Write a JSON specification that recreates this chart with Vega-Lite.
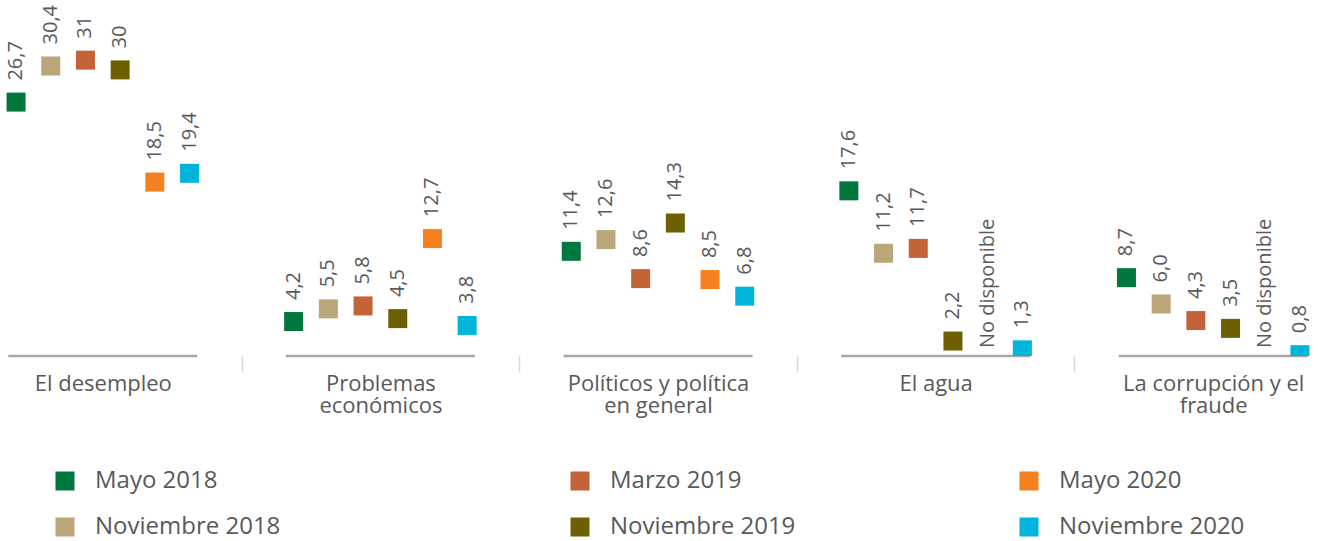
{
  "$schema": "https://vega.github.io/schema/vega-lite/v6.json",
  "autosize": {"type": "none"},
  "padding": {"left": -36, "top": 0, "right": -32, "bottom": 185},
  "width": 1388,
  "height": 356,
  "background": "white",
  "config": {
    "font": "Open Sans",
    "view": {"stroke": null},
    "axis": {"grid": false},
    "legend": {
      "orient": "none",
      "title": null,
      "padding": 0,
      "symbolType": "square",
      "symbolSize": 361,
      "symbolStrokeWidth": 0,
      "labelFont": "Open Sans",
      "labelFontSize": 24,
      "labelColor": "#595959",
      "labelOffset": 18,
      "rowPadding": 22,
      "labelLimit": 400
    }
  },
  "data": {
    "values": [
      {"category": "El desempleo", "series": "Mayo 2018", "value": 26.7, "label": "26,7"},
      {"category": "El desempleo", "series": "Noviembre 2018", "value": 30.4, "label": "30,4"},
      {"category": "El desempleo", "series": "Marzo 2019", "value": 31, "label": "31"},
      {"category": "El desempleo", "series": "Noviembre 2019", "value": 30, "label": "30"},
      {"category": "El desempleo", "series": "Mayo 2020", "value": 18.5, "label": "18,5"},
      {"category": "El desempleo", "series": "Noviembre 2020", "value": 19.4, "label": "19,4"},
      {"category": "Problemas económicos", "series": "Mayo 2018", "value": 4.2, "label": "4,2"},
      {"category": "Problemas económicos", "series": "Noviembre 2018", "value": 5.5, "label": "5,5"},
      {"category": "Problemas económicos", "series": "Marzo 2019", "value": 5.8, "label": "5,8"},
      {"category": "Problemas económicos", "series": "Noviembre 2019", "value": 4.5, "label": "4,5"},
      {"category": "Problemas económicos", "series": "Mayo 2020", "value": 12.7, "label": "12,7"},
      {"category": "Problemas económicos", "series": "Noviembre 2020", "value": 3.8, "label": "3,8"},
      {"category": "Políticos y política en general", "series": "Mayo 2018", "value": 11.4, "label": "11,4"},
      {"category": "Políticos y política en general", "series": "Noviembre 2018", "value": 12.6, "label": "12,6"},
      {"category": "Políticos y política en general", "series": "Marzo 2019", "value": 8.6, "label": "8,6"},
      {"category": "Políticos y política en general", "series": "Noviembre 2019", "value": 14.3, "label": "14,3"},
      {"category": "Políticos y política en general", "series": "Mayo 2020", "value": 8.5, "label": "8,5"},
      {"category": "Políticos y política en general", "series": "Noviembre 2020", "value": 6.8, "label": "6,8"},
      {"category": "El agua", "series": "Mayo 2018", "value": 17.6, "label": "17,6"},
      {"category": "El agua", "series": "Noviembre 2018", "value": 11.2, "label": "11,2"},
      {"category": "El agua", "series": "Marzo 2019", "value": 11.7, "label": "11,7"},
      {"category": "El agua", "series": "Noviembre 2019", "value": 2.2, "label": "2,2"},
      {"category": "El agua", "series": "Mayo 2020", "value": null, "label": "No disponible"},
      {"category": "El agua", "series": "Noviembre 2020", "value": 1.3, "label": "1,3"},
      {"category": "La corrupción y el fraude", "series": "Mayo 2018", "value": 8.7, "label": "8,7"},
      {"category": "La corrupción y el fraude", "series": "Noviembre 2018", "value": 6.0, "label": "6,0"},
      {"category": "La corrupción y el fraude", "series": "Marzo 2019", "value": 4.3, "label": "4,3"},
      {"category": "La corrupción y el fraude", "series": "Noviembre 2019", "value": 3.5, "label": "3,5"},
      {"category": "La corrupción y el fraude", "series": "Mayo 2020", "value": null, "label": "No disponible"},
      {"category": "La corrupción y el fraude", "series": "Noviembre 2020", "value": 0.8, "label": "0,8"}
    ]
  },
  "encoding": {
    "x": {
      "field": "category",
      "type": "nominal",
      "scale": {
        "type": "band",
        "domain": ["El desempleo", "Problemas económicos", "Políticos y política en general", "El agua", "La corrupción y el fraude"],
        "paddingInner": 0,
        "paddingOuter": 0
      },
      "axis": {
        "title": null,
        "domain": false,
        "ticks": true,
        "tickBand": "extent",
        "tickSize": 16,
        "tickColor": "#d9d9d9",
        "tickWidth": 1.5,
        "labelAngle": 0,
        "labelFontSize": 22,
        "labelColor": "#595959",
        "labelPadding": 1,
        "labelLineHeight": 22,
        "labelLimit": 300,
        "labelExpr": "datum.label == 'Problemas económicos' ? ['Problemas', 'económicos'] : datum.label == 'Políticos y política en general' ? ['Políticos y política', 'en general'] : datum.label == 'La corrupción y el fraude' ? ['La corrupción y el', 'fraude'] : datum.label"
      }
    }
  },
  "layer": [
    {
      "transform": [{"filter": "datum.series == 'Mayo 2018'"}],
      "mark": {"type": "tick", "size": 189, "thickness": 2.5, "color": "#a6a6a6", "opacity": 1},
      "encoding": {
        "y": {"datum": 0, "type": "quantitative", "scale": {"domain": [0, 36.5], "nice": false, "zero": false}, "axis": null}
      }
    },
    {
      "transform": [
        {"filter": "datum.value != null"},
        {"filter": "indexof(['Mayo 2020', 'Noviembre 2020'], datum.series) < 0"}
      ],
      "mark": {"type": "point", "shape": "square", "filled": true, "size": 361, "opacity": 1, "yOffset": 6.5, "clip": true},
      "encoding": {
        "xOffset": {"field": "series", "type": "nominal", "scale": {"type": "band", "domain": ["Mayo 2018", "Noviembre 2018", "Marzo 2019", "Noviembre 2019", "Mayo 2020", "Noviembre 2020"], "paddingInner": 0, "paddingOuter": 1.082}},
        "y": {"field": "value", "type": "quantitative", "scale": {"domain": [0, 36.5], "nice": false, "zero": false}, "axis": null},
        "color": {
          "field": "series",
          "type": "nominal",
          "scale": {
            "domain": ["Mayo 2018", "Marzo 2019", "Noviembre 2018", "Noviembre 2019"],
            "range": ["#00773D", "#C46337", "#BBA67A", "#6E6000"]
          },
          "legend": {"legendX": 89, "legendY": 469, "direction": "horizontal", "columns": 2, "columnPadding": 287}
        }
      }
    },
    {
      "transform": [
        {"filter": "datum.value != null"},
        {"filter": "indexof(['Mayo 2020', 'Noviembre 2020'], datum.series) >= 0"}
      ],
      "mark": {"type": "point", "shape": "square", "filled": true, "size": 361, "opacity": 1, "yOffset": 6.5, "clip": true},
      "encoding": {
        "xOffset": {"field": "series", "type": "nominal", "scale": {"type": "band", "domain": ["Mayo 2018", "Noviembre 2018", "Marzo 2019", "Noviembre 2019", "Mayo 2020", "Noviembre 2020"], "paddingInner": 0, "paddingOuter": 1.082}},
        "y": {"field": "value", "type": "quantitative", "scale": {"domain": [0, 36.5], "nice": false, "zero": false}, "axis": null},
        "color": {
          "field": "series",
          "type": "nominal",
          "scale": {
            "domain": ["Mayo 2020", "Noviembre 2020"],
            "range": ["#F48120", "#00B4DA"]
          },
          "legend": {"legendX": 1053, "legendY": 469, "direction": "vertical", "columns": 1}
        }
      }
    },
    {
      "transform": [{"filter": "datum.value != null"}],
      "mark": {"type": "text", "angle": 270, "align": "left", "baseline": "middle", "fontSize": 20, "color": "#595959", "yOffset": -15},
      "encoding": {
        "xOffset": {"field": "series", "type": "nominal", "scale": {"type": "band", "domain": ["Mayo 2018", "Noviembre 2018", "Marzo 2019", "Noviembre 2019", "Mayo 2020", "Noviembre 2020"], "paddingInner": 0, "paddingOuter": 1.082}},
        "y": {"field": "value", "type": "quantitative", "scale": {"domain": [0, 36.5], "nice": false, "zero": false}, "axis": null},
        "text": {"field": "label", "type": "nominal"}
      }
    },
    {
      "transform": [{"filter": "datum.value == null"}],
      "mark": {"type": "text", "angle": 270, "align": "left", "baseline": "middle", "fontSize": 20, "color": "#595959", "yOffset": -8},
      "encoding": {
        "xOffset": {"field": "series", "type": "nominal", "scale": {"type": "band", "domain": ["Mayo 2018", "Noviembre 2018", "Marzo 2019", "Noviembre 2019", "Mayo 2020", "Noviembre 2020"], "paddingInner": 0, "paddingOuter": 1.082}},
        "y": {"datum": 0, "type": "quantitative", "scale": {"domain": [0, 36.5], "nice": false, "zero": false}, "axis": null},
        "text": {"field": "label", "type": "nominal"}
      }
    }
  ],
  "resolve": {"scale": {"color": "independent"}}
}
